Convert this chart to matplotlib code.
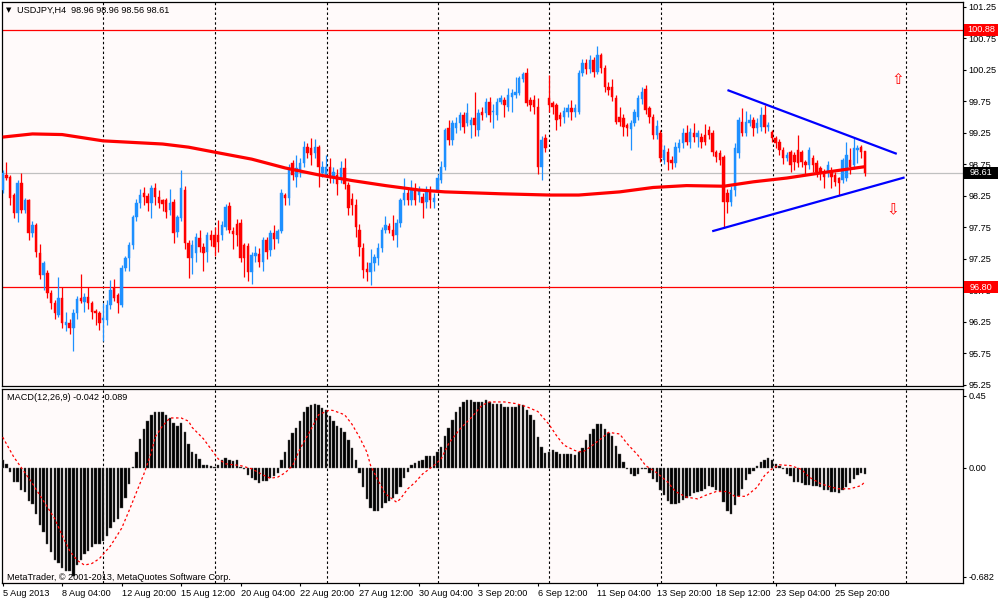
import matplotlib
matplotlib.use("Agg")
import matplotlib.pyplot as plt
from matplotlib.patches import Rectangle
import numpy as np

plt.rcParams['font.family'] = ['Liberation Sans', 'DejaVu Sans']

# ---------------- data ----------------
opens = [98.34,98.58,98.55,98.26,97.97,98.45,98.02,98.18,97.66,97.79,
97.34,96.99,97.02,96.71,96.55,96.36,96.63,96.20,96.23,96.15,
96.39,96.63,96.56,96.64,96.55,96.42,96.39,96.28,96.28,96.52,
96.78,96.67,96.52,97.10,97.26,97.47,97.91,98.13,98.29,98.24,
98.13,98.37,98.23,98.18,98.18,98.02,98.15,97.67,97.90,98.34,
97.50,97.26,97.34,97.58,97.44,97.36,97.63,97.63,97.63,97.63,
97.75,98.09,97.69,97.80,97.82,97.47,97.45,97.04,97.30,97.32,
97.20,97.55,97.39,97.66,97.56,97.69,98.26,98.21,98.77,98.55,
98.66,98.77,99.02,99.01,98.93,99.02,98.61,98.58,98.71,98.55,
98.58,98.53,98.69,98.42,98.20,98.10,97.71,97.42,97.09,97.04,
97.18,97.26,97.42,97.71,97.77,97.71,97.63,97.82,98.18,98.29,
98.18,98.34,98.26,98.23,98.15,98.34,98.15,98.31,98.50,98.71,
99.32,99.13,99.32,99.40,99.53,99.40,99.37,99.48,99.29,99.58,
99.56,99.74,99.58,99.53,99.74,99.77,99.66,99.82,99.85,99.88,
100.10,100.20,99.77,99.77,99.66,98.70,99.16,99.80,99.72,99.69,
99.53,99.50,99.58,99.64,99.58,99.58,100.20,100.36,100.26,100.40,
100.22,100.48,100.28,99.98,99.98,99.80,99.50,99.48,99.37,99.31,
99.40,99.50,99.78,99.94,99.64,99.50,99.21,99.25,98.82,98.94,
98.82,98.77,99.01,99.09,99.25,99.10,99.25,99.18,99.18,99.21,
99.29,99.25,98.94,98.92,98.86,98.29,98.15,98.34,98.93,99.42,
99.25,99.40,99.45,99.32,99.34,99.53,99.34,99.26,99.17,99.10,
98.97,98.85,98.94,98.90,98.97,98.94,98.78,98.74,98.85,98.77,
98.69,98.63,98.63,98.63,98.58,98.53,98.50,98.53,98.82,98.74,
98.97,99.02,98.96]
highs = [98.66,98.79,98.58,98.29,98.50,98.61,98.22,98.20,97.85,97.82,
97.48,97.22,97.07,96.75,96.60,96.96,96.80,96.40,96.30,96.45,
96.65,97.00,96.70,96.80,96.58,96.45,96.42,96.55,96.60,96.91,
96.93,96.70,97.15,97.30,97.52,97.95,98.20,98.35,98.38,98.30,
98.42,98.45,98.34,98.20,98.22,98.35,98.20,97.95,98.66,98.40,
97.55,97.55,97.65,97.70,97.50,97.67,97.70,97.75,97.86,97.85,
98.12,98.15,97.75,97.88,97.88,97.50,97.50,97.36,97.45,97.42,
97.60,97.60,97.70,97.78,97.72,98.35,98.30,98.75,98.82,98.90,
98.85,99.11,99.08,99.16,99.15,99.05,98.80,98.90,98.85,98.70,
98.68,98.80,98.85,98.46,98.30,98.20,97.80,97.50,97.20,97.40,
97.33,97.50,97.75,97.92,97.82,97.95,97.88,98.22,98.53,98.35,
98.50,98.45,98.40,98.30,98.40,98.40,98.30,98.60,98.80,99.32,
99.45,99.45,99.50,99.58,99.58,99.72,99.50,99.90,99.62,99.65,
99.80,99.82,99.70,99.80,99.85,99.82,99.96,99.95,100.14,100.15,
100.22,100.27,99.82,99.85,99.80,99.20,99.23,100.16,99.75,99.72,
99.58,99.65,99.70,99.77,99.70,100.25,100.42,100.42,100.48,100.45,
100.62,100.52,100.32,100.05,100.10,99.85,99.65,99.55,99.40,99.45,
99.62,99.85,99.98,100.00,99.68,99.55,99.45,99.30,99.05,99.00,
98.88,99.10,99.15,99.33,99.37,99.32,99.40,99.30,99.25,99.38,
99.35,99.30,98.98,98.98,98.90,98.35,98.40,99.08,99.50,99.64,
99.60,99.55,99.50,99.48,99.66,99.69,99.42,99.30,99.20,99.15,
99.02,98.95,98.98,98.95,99.21,98.98,98.82,99.02,98.90,98.82,
98.72,98.68,98.80,98.70,98.62,98.55,98.85,99.10,99.00,99.18,
99.05,99.05,98.96]
lows = [98.29,98.50,98.10,97.90,97.84,97.98,97.98,97.55,97.60,97.28,
96.93,96.75,96.62,96.45,96.30,96.33,96.15,96.10,96.05,95.78,
96.30,96.55,96.40,96.45,96.30,96.20,96.12,95.95,96.20,96.45,
96.58,96.39,96.48,97.05,97.05,97.40,97.85,98.05,98.10,98.00,
97.90,98.10,98.05,98.00,97.90,97.95,97.50,97.60,97.85,97.40,
96.95,97.00,97.20,97.35,97.05,97.20,97.45,97.30,97.35,97.55,
97.70,97.65,97.40,97.45,97.20,96.96,96.90,96.85,97.20,97.12,
97.05,97.25,97.30,97.40,97.50,97.65,98.10,98.10,98.50,98.39,
98.55,98.70,98.85,98.74,98.85,98.39,98.55,98.55,98.45,98.45,
98.26,98.45,98.35,97.95,97.95,97.60,97.30,96.95,96.90,96.83,
97.05,97.15,97.35,97.65,97.65,97.55,97.44,97.75,98.10,98.10,
98.10,98.10,98.15,97.89,98.05,98.05,98.05,98.31,98.45,98.65,
99.05,99.05,99.25,99.30,99.25,99.35,99.17,99.19,99.20,99.45,
99.50,99.42,99.32,99.45,99.70,99.50,99.60,99.58,99.80,99.85,
100.05,99.68,99.60,99.55,98.60,98.50,98.95,99.58,99.55,99.30,
99.35,99.40,99.50,99.45,99.50,99.55,100.15,100.18,100.20,100.14,
100.18,100.20,99.90,99.85,99.75,99.38,99.35,99.20,99.20,98.98,
99.35,99.45,99.70,99.55,99.40,99.15,99.15,98.78,98.75,98.65,
98.68,98.70,98.95,99.00,99.05,99.00,99.10,99.03,99.00,99.05,
99.15,98.88,98.79,98.74,97.74,97.97,98.08,98.25,98.85,99.20,
99.20,99.35,99.19,99.25,99.28,99.25,99.28,99.10,99.00,98.90,
98.75,98.80,98.63,98.65,98.70,98.70,98.60,98.68,98.62,98.55,
98.50,98.37,98.55,98.37,98.40,98.26,98.45,98.48,98.60,98.68,
98.77,98.85,98.56]
closes = [98.61,98.53,98.21,97.97,98.45,98.02,98.18,97.66,97.79,97.36,
96.99,97.18,96.71,96.55,96.39,96.63,96.23,96.25,96.15,96.39,
96.61,96.58,96.64,96.55,96.40,96.39,96.23,96.31,96.52,96.75,
96.63,96.55,97.10,97.26,97.47,97.91,98.13,98.26,98.23,98.13,
98.37,98.23,98.13,98.12,97.99,98.13,97.66,97.91,98.37,97.50,
97.26,97.47,97.60,97.44,97.34,97.63,97.55,97.44,97.51,97.79,
98.07,97.71,97.64,97.63,97.26,97.26,97.04,97.31,97.34,97.20,
97.55,97.36,97.66,97.56,97.69,98.29,98.21,98.69,98.58,98.69,
98.77,99.02,98.93,98.90,99.02,98.71,98.71,98.71,98.53,98.63,
98.43,98.69,98.43,98.05,98.10,97.75,97.44,97.07,97.04,97.18,
97.28,97.42,97.71,97.79,97.71,97.61,97.82,98.18,98.29,98.18,
98.34,98.18,98.34,98.13,98.34,98.18,98.21,98.53,98.71,99.29,
99.13,99.40,99.40,99.53,99.34,99.56,99.45,99.37,99.56,99.53,
99.74,99.53,99.60,99.74,99.80,99.69,99.85,99.88,99.90,100.12,
100.18,99.72,99.69,99.66,98.70,99.13,99.00,99.69,99.66,99.45,
99.47,99.59,99.64,99.58,99.64,100.20,100.36,100.26,100.40,100.22,
100.48,100.28,99.98,99.93,99.82,99.42,99.42,99.34,99.32,99.40,
99.58,99.80,99.90,99.61,99.50,99.21,99.35,98.85,98.97,98.78,
98.77,99.02,99.09,99.25,99.10,99.26,99.18,99.25,99.10,99.10,
99.21,98.94,98.86,98.82,98.15,98.15,98.34,99.01,99.45,99.25,
99.42,99.45,99.32,99.40,99.53,99.34,99.37,99.17,99.09,98.97,
98.85,98.90,98.74,98.78,98.77,98.78,98.74,98.97,98.74,98.62,
98.61,98.55,98.74,98.55,98.47,98.45,98.82,98.90,98.71,99.01,
99.01,98.94,98.61]

# moving average (thick red line), sampled at bar indices
ma_idx = [0, 8, 16, 27, 43, 50, 58, 67, 76, 85, 94, 103, 112, 119, 134, 147,
          155, 166, 175, 184, 194, 202, 211, 220, 226, 232]
ma_val = [99.18, 99.23, 99.22, 99.12, 99.07, 99.02, 98.93, 98.83, 98.69, 98.58,
          98.49, 98.41, 98.34, 98.31, 98.28, 98.26, 98.26, 98.31, 98.38, 98.41,
          98.40, 98.47, 98.53, 98.61, 98.66, 98.71]

# MACD main (histogram)
macd = [0.044,0.02,-0.03,-0.09,-0.09,-0.14,-0.15,-0.21,-0.23,-0.29,
-0.36,-0.40,-0.48,-0.53,-0.58,-0.60,-0.63,-0.65,-0.65,-0.68,
-0.61,-0.58,-0.54,-0.52,-0.50,-0.48,-0.48,-0.46,-0.43,-0.38,
-0.34,-0.32,-0.25,-0.19,-0.10,0.005,0.096,0.18,0.24,0.29,
0.33,0.35,0.35,0.35,0.33,0.31,0.28,0.26,0.28,0.22,
0.15,0.10,0.085,0.055,0.017,0.017,0.012,0.002,0.017,0.05,
0.058,0.05,0.04,0.045,0.002,-0.012,-0.046,-0.067,-0.075,-0.098,
-0.083,-0.083,-0.067,-0.05,-0.033,0.044,0.10,0.17,0.217,0.25,
0.29,0.35,0.38,0.39,0.40,0.39,0.37,0.36,0.325,0.29,
0.26,0.25,0.22,0.17,0.12,0.05,-0.033,-0.12,-0.196,-0.25,
-0.27,-0.27,-0.25,-0.22,-0.21,-0.19,-0.165,-0.12,-0.067,-0.03,
0.017,0.03,0.042,0.05,0.069,0.069,0.069,0.10,0.127,0.20,
0.25,0.30,0.35,0.38,0.41,0.42,0.42,0.41,0.41,0.41,
0.42,0.41,0.40,0.40,0.40,0.38,0.38,0.38,0.38,0.39,
0.39,0.36,0.33,0.30,0.19,0.13,0.09,0.10,0.11,0.096,
0.085,0.085,0.085,0.085,0.08,0.096,0.12,0.175,0.21,0.24,
0.27,0.27,0.24,0.217,0.20,0.133,0.085,0.033,-0.012,-0.04,
-0.054,-0.04,-0.012,-0.012,-0.033,-0.07,-0.088,-0.14,-0.17,-0.21,
-0.23,-0.227,-0.22,-0.20,-0.19,-0.175,-0.16,-0.15,-0.144,-0.133,
-0.117,-0.123,-0.138,-0.144,-0.217,-0.27,-0.29,-0.237,-0.18,-0.133,
-0.08,-0.04,-0.019,0.012,0.037,0.05,0.058,0.05,0.023,0.012,
-0.012,-0.04,-0.054,-0.092,-0.088,-0.096,-0.108,-0.108,-0.117,-0.117,
-0.123,-0.138,-0.138,-0.15,-0.154,-0.158,-0.138,-0.123,-0.096,-0.07,
-0.046,-0.033,-0.042]

# MACD signal line, sampled at bar indices
sig_idx = [0,3,5,8,11,14,16,18,20,22,24,26,29,32,34,36,38,40,41,43,45,48,50,51,54,
           56,58,60,64,67,70,72,74,76,78,80,83,85,88,89,92,94,96,98,99,101,103,106,
           107,109,111,113,116,118,120,123,126,129,131,135,138,141,144,147,149,151,
           154,156,158,161,163,166,168,171,173,176,179,181,184,187,189,192,195,197,
           200,203,205,207,209,212,215,217,220,223,225,228,231,232]
sig_val = [0.19,0.065,0.0,-0.10,-0.21,-0.32,-0.425,-0.52,-0.58,-0.61,-0.60,-0.57,-0.49,
           -0.38,-0.27,-0.154,-0.04,0.096,0.19,0.26,0.31,0.31,0.29,0.25,0.18,0.117,0.054,
           0.023,0.012,-0.008,-0.046,-0.067,-0.06,-0.033,0.012,0.117,0.24,0.33,0.36,0.356,
           0.33,0.27,0.19,0.096,0.012,-0.08,-0.165,-0.217,-0.196,-0.133,-0.092,-0.04,0.012,
           0.054,0.15,0.24,0.31,0.39,0.41,0.41,0.40,0.38,0.35,0.27,0.20,0.14,0.106,0.096,
           0.127,0.18,0.22,0.21,0.15,0.075,0.012,-0.033,-0.092,-0.15,-0.185,-0.196,-0.175,
           -0.15,-0.15,-0.18,-0.18,-0.123,-0.05,-0.008,0.017,0.012,-0.012,-0.06,-0.10,
           -0.123,-0.133,-0.133,-0.113,-0.089]

# horizontal levels
level_high = 100.88
level_low = 96.80
last_price = 98.61

# triangle trend lines (bar index, price)
upper_x = [195.3, 240.3]
upper_y = [99.92, 98.92]
lower_x = [191.2, 242.4]
lower_y = [97.69, 98.535]

# arrows (bar index, price)
arrow_up = (240.9, 100.10)
arrow_dn = (239.6, 98.02)

# vertical grid positions (bar index)
grid_x = [27.1, 57.1, 87.2, 117.1, 147.1, 177.1, 207.2, 243.1]

# time axis
time_ticks = [0, 16, 32, 48, 64, 80, 96, 112, 128, 144, 160, 176, 192, 208, 224]
time_labels = ["5 Aug 2013", "8 Aug 04:00", "12 Aug 20:00", "15 Aug 12:00",
               "20 Aug 04:00", "22 Aug 20:00", "27 Aug 12:00", "30 Aug 04:00",
               "3 Sep 20:00", "6 Sep 12:00", "11 Sep 04:00", "13 Sep 20:00",
               "18 Sep 12:00", "23 Sep 04:00", "25 Sep 20:00"]
price_ticks = [95.25, 95.75, 96.25, 96.75, 97.25, 97.75, 98.25, 98.75,
               99.25, 99.75, 100.25, 100.75, 101.25]
macd_ticks = [0.45, 0.0, -0.682]
macd_tick_labels = ["0.45", "0.00", "-0.682"]

# ---------------- figure ----------------
W, H = 1000, 600
fig = plt.figure(figsize=(10, 6), dpi=100, facecolor='white')
BG = '#FFFAFA'
BULL = '#1E90FF'
BEAR = '#FF0000'
FS = 6.6

def fx(px):
    return px / W

def fy(py):
    return 1 - py / H

ax1 = fig.add_axes([fx(2), fy(386), fx(963) - fx(2), fy(2) - fy(386)])
ax2 = fig.add_axes([fx(2), fy(583), fx(963) - fx(2), fy(389) - fy(583)])

n = len(closes)
idx = np.arange(n)
o = np.array(opens); h = np.array(highs); l = np.array(lows); c = np.array(closes)
up = c >= o
cols = np.where(up, BULL, BEAR)

XMIN, XMAX = -0.19, 258.4
for ax in (ax1, ax2):
    ax.set_facecolor(BG)
    ax.set_xlim(XMIN, XMAX)
    for s in ax.spines.values():
        s.set_color('black')
        s.set_linewidth(0.9)
    for gx in grid_x:
        ax.axvline(gx, color='black', lw=0.8, ls=(0, (2.2, 2.2)), zorder=1)

# price panel
YMIN, YMAX = 95.229, 101.324
ax1.set_ylim(YMIN, YMAX)
ax1.axhline(level_high, color='red', lw=0.9, zorder=2)
ax1.axhline(level_low, color='red', lw=0.9, zorder=2)
ax1.axhline(last_price, color='#C0C0C0', lw=0.9, zorder=2)

ax1.vlines(idx, l, h, colors=cols, lw=0.9, zorder=3)
body_bottom = np.minimum(o, c)
body_h = np.maximum(np.abs(c - o), 0.012)
ax1.bar(idx, body_h, bottom=body_bottom, width=0.66, color=cols,
        edgecolor=cols, linewidth=0.3, zorder=4)

ax1.plot(ma_idx, ma_val, color='red', lw=2.3, solid_capstyle='butt', zorder=5)
ax1.plot(upper_x, upper_y, color='#0000FF', lw=1.6, zorder=6)
ax1.plot(lower_x, lower_y, color='#0000FF', lw=1.6, zorder=6)

ax1.text(arrow_up[0], arrow_up[1], '\u21e7', color='red', fontsize=11,
         ha='center', va='center', family=['DejaVu Sans'], zorder=6)
ax1.text(arrow_dn[0], arrow_dn[1], '\u21e9', color='red', fontsize=11,
         ha='center', va='center', family=['DejaVu Sans'], zorder=6)

ax1.set_xticks([])
ax1.yaxis.tick_right()
ax1.set_yticks(price_ticks)
ax1.set_yticklabels([f"{v:.2f}" for v in price_ticks])
ax1.tick_params(axis='y', direction='out', length=2.5, width=0.8, pad=1.5,
                labelsize=FS, colors='black')

# price tags on the right axis
ytr = ax1.get_yaxis_transform()
tag_w = 34.0 / 961.0
tag_h = 12.0 / 384.0 * (YMAX - YMIN)
for val, fc in ((level_high, 'red'), (level_low, 'red'), (last_price, 'black')):
    ax1.add_patch(Rectangle((1.0015, val - tag_h / 2), tag_w, tag_h, transform=ytr,
                            facecolor=fc, edgecolor=fc, lw=0, clip_on=False, zorder=9))
    ax1.text(1.0015 + tag_w / 2, val, f"{val:.2f}", transform=ytr, ha='center',
             va='center', fontsize=FS, color='white', clip_on=False, zorder=10)

# MACD panel
ax2.set_ylim(-0.722, 0.491)
ax2.bar(idx, macd, width=0.64, color='black', edgecolor='#555555',
        linewidth=0.3, zorder=3)
ax2.plot(sig_idx, sig_val, color='red', lw=0.9, ls=(0, (2, 2)), zorder=4)
ax2.yaxis.tick_right()
ax2.set_yticks(macd_ticks)
ax2.set_yticklabels(macd_tick_labels)
ax2.tick_params(axis='y', direction='out', length=2.5, width=0.8, pad=1.5,
                labelsize=FS, colors='black')
ax2.set_xticks(time_ticks)
ax2.set_xticklabels(time_labels)
ax2.tick_params(axis='x', direction='out', length=2.5, width=0.8, pad=1.5,
                labelsize=FS, colors='black')
for t in ax2.get_xticklabels():
    t.set_horizontalalignment('left')

# texts
fig.text(fx(6), fy(10.5), '\u25bc', fontsize=5, color='black', ha='left',
         va='center', family=['DejaVu Sans'])
fig.text(fx(17), fy(10), 'USDJPY,H4  98.96 98.96 98.56 98.61', fontsize=FS,
         color='black', ha='left', va='center')
fig.text(fx(7), fy(398), 'MACD(12,26,9) -0.042 -0.089', fontsize=FS,
         color='black', ha='left', va='center')
fig.text(fx(7), fy(577), 'MetaTrader, \u00a9 2001-2013, MetaQuotes Software Corp.',
         fontsize=FS, color='black', ha='left', va='center', zorder=10)

fig.savefig('out.png', dpi=100, facecolor='white')
